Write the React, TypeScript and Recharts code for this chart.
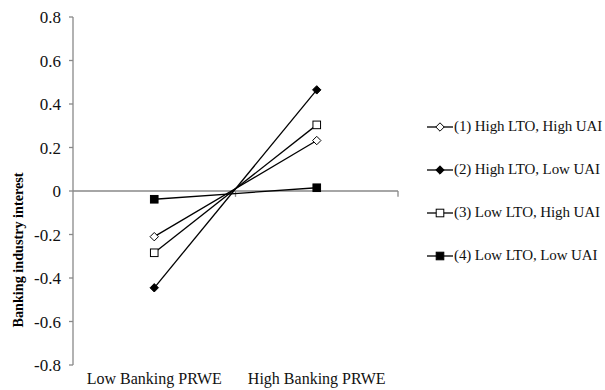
import React from 'react';
import { LineChart, Line, XAxis, YAxis, ReferenceLine } from 'recharts';

const categories = ['Low Banking PRWE', 'High Banking PRWE'];
const seriesNames = [
  '(1) High LTO, High UAI',
  '(2) High LTO, Low UAI',
  '(3) Low LTO, High UAI',
  '(4) Low LTO, Low UAI',
];
const highLtoHighUai = [-0.21, 0.232];
const highLtoLowUai = [-0.445, 0.465];
const lowLtoHighUai = [-0.284, 0.304];
const lowLtoLowUai = [-0.038, 0.015];
const yTicks = [-0.8, -0.6, -0.4, -0.2, 0, 0.2, 0.4, 0.6, 0.8];

const data = categories.map((name, i) => ({
  pos: i + 0.5,
  name,
  s1: highLtoHighUai[i],
  s2: highLtoLowUai[i],
  s3: lowLtoHighUai[i],
  s4: lowLtoLowUai[i],
}));

const FONT = '"Liberation Serif", "Times New Roman", serif';
const INK = '#000';
const GRID = '#898989';

type Kind = 'diamondOpen' | 'diamond' | 'squareOpen' | 'square';
const kinds: Kind[] = ['diamondOpen', 'diamond', 'squareOpen', 'square'];
const keys = ['s1', 's2', 's3', 's4'];

const Marker = ({ cx, cy, kind }: { cx: number; cy: number; kind: Kind }) => {
  if (cx == null || cy == null) return null;
  if (kind === 'diamondOpen' || kind === 'diamond') {
    const r = 4.2;
    return (
      <path
        d={`M${cx},${cy - r}L${cx + r},${cy}L${cx},${cy + r}L${cx - r},${cy}Z`}
        fill={kind === 'diamond' ? INK : '#fff'}
        stroke={INK}
        strokeWidth={1}
      />
    );
  }
  const h = 3.8;
  return (
    <rect
      x={cx - h}
      y={cy - h}
      width={h * 2}
      height={h * 2}
      fill={kind === 'square' ? INK : '#fff'}
      stroke={INK}
      strokeWidth={1}
    />
  );
};

// legend sits to the right of the plot, one row per series
const LegendBox = () => (
  <div
    style={{
      position: 'absolute',
      left: 427,
      top: 105,
      fontFamily: FONT,
      fontSize: 15,
      letterSpacing: -0.1,
      color: '#111',
    }}
  >
    {seriesNames.map((n, i) => (
      <div key={n} style={{ display: 'flex', alignItems: 'center', height: 43 }}>
        <svg width={27} height={12}>
          <line x1={0} y1={6} x2={26} y2={6} stroke={INK} strokeWidth={1.3} />
          <Marker cx={13} cy={6} kind={kinds[i]} />
        </svg>
        <span style={{ whiteSpace: 'nowrap' }}>{n}</span>
      </div>
    ))}
  </div>
);

const YLabel = () => (
  <text
    x={18}
    y={250}
    transform="rotate(-90 18 250)"
    textAnchor="middle"
    dominantBaseline="central"
    fontFamily={FONT}
    fontSize={14.2}
    fontWeight="bold"
    fill="#000"
  >
    Banking industry interest
  </text>
);

export default function App() {
  return (
    <div style={{ position: 'absolute', left: 0, top: 0, width: 605, height: 390, background: '#fff' }}>
      <LineChart width={605} height={390} data={data} margin={{ top: 17, right: 207, bottom: 0, left: 0 }}>
        <XAxis
          dataKey="pos"
          type="number"
          domain={[0, 2]}
          ticks={[0.5, 1.5]}
          tickFormatter={(v: number) => categories[Math.floor(v)]}
          axisLine={false}
          tickLine={false}
          height={25}
          tick={{ fontFamily: FONT, fontSize: 16, fill: '#111' }}
          interval={0}
        />
        <YAxis
          domain={[-0.8, 0.8]}
          ticks={yTicks}
          interval={0}
          width={73}
          tickSize={4}
          tickMargin={8}
          axisLine={{ stroke: GRID, strokeWidth: 1.3 }}
          tickLine={{ stroke: GRID, strokeWidth: 1.3 }}
          tickFormatter={(v: number) => (v === 0 ? '0' : v.toFixed(1))}
          tick={{ fontFamily: FONT, fontSize: 17, fill: '#111' }}
          label={<YLabel />}
        />
        <ReferenceLine y={0} stroke={GRID} strokeWidth={1.5} />
        {[1, 2].map((x) => (
          <ReferenceLine
            key={x}
            segment={[{ x, y: 0 }, { x, y: -0.027 }]}
            stroke={GRID}
            strokeWidth={1.3}
            ifOverflow="visible"
          />
        ))}
        {keys.map((k, i) => (
          <Line
            key={k}
            dataKey={k}
            name={seriesNames[i]}
            type="linear"
            stroke={INK}
            strokeWidth={1.3}
            isAnimationActive={false}
            dot={(p: any) => <Marker key={`${k}-${p.index}`} cx={p.cx} cy={p.cy} kind={kinds[i]} />}
            activeDot={false}
          />
        ))}
      </LineChart>
      <LegendBox />
    </div>
  );
}
